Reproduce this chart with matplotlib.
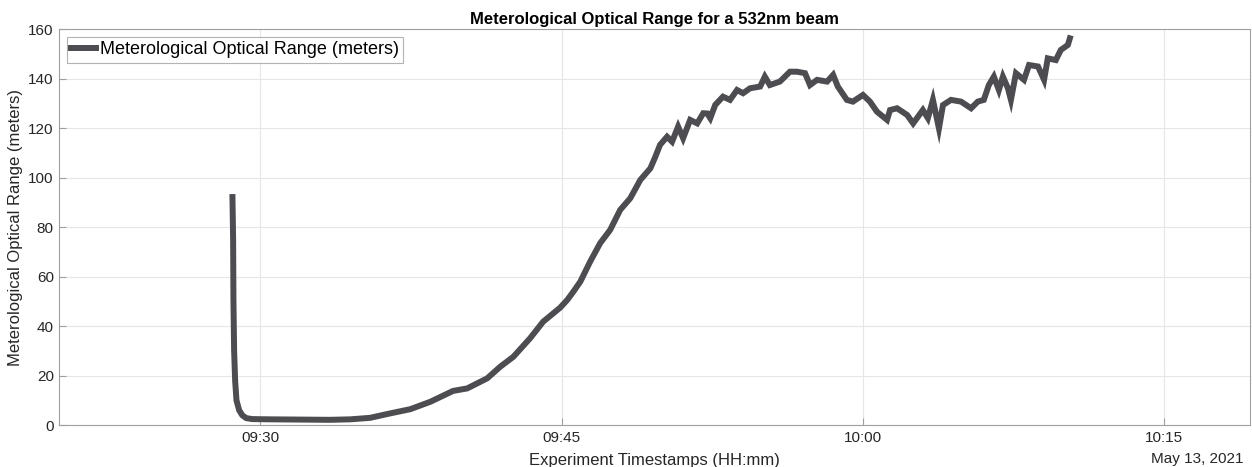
import numpy as np
import pandas as pd
import matplotlib
matplotlib.use("Agg")
import matplotlib.pyplot as plt
import matplotlib.dates as mdates

plt.rcParams['font.family'] = ['Liberation Sans', 'DejaVu Sans']

# Timestamps (HH:MM:SS on May 13, 2021) and MOR values
times = ["09:28:37", "09:28:39", "09:28:40", "09:28:42", "09:28:45", "09:28:49",
         "09:28:57", "09:29:06", "09:29:18", "09:29:36", "09:30:29", "09:31:59",
         "09:33:28", "09:34:29", "09:35:28", "09:36:28", "09:37:28", "09:38:28",
         "09:39:36", "09:40:18", "09:41:18", "09:41:57", "09:42:36", "09:43:26",
         "09:44:05", "09:44:56", "09:45:17", "09:45:35", "09:45:56", "09:46:25",
         "09:46:55", "09:47:25", "09:47:55", "09:48:25", "09:48:55", "09:49:25",
         "09:49:40", "09:49:54", "09:50:15", "09:50:30", "09:50:48", "09:51:03",
         "09:51:24", "09:51:45", "09:52:03", "09:52:15", "09:52:24", "09:52:39",
         "09:53:02", "09:53:23", "09:53:44", "09:54:02", "09:54:23", "09:54:53",
         "09:55:07", "09:55:22", "09:55:52", "09:56:22", "09:56:43", "09:57:07",
         "09:57:22", "09:57:43", "09:58:13", "09:58:31", "09:58:45", "09:59:12",
         "09:59:30", "10:00:00", "10:00:21", "10:00:42", "10:01:12", "10:01:21",
         "10:01:42", "10:02:12", "10:02:30", "10:02:59", "10:03:14", "10:03:29",
         "10:03:47", "10:03:59", "10:04:23", "10:04:53", "10:05:23", "10:05:43",
         "10:06:01", "10:06:16", "10:06:31", "10:06:46", "10:06:58", "10:07:13",
         "10:07:22", "10:07:37", "10:08:01", "10:08:16", "10:08:43", "10:09:01",
         "10:09:12", "10:09:36", "10:09:51", "10:10:12", "10:10:18"]
mor = [92.2, 75.0, 50.0, 30.0, 18.0, 10.0,
       6.0, 4.0, 2.8, 2.4, 2.3, 2.2,
       2.1, 2.3, 2.9, 4.7, 6.4, 9.4,
       13.8, 14.8, 18.9, 23.6, 27.6, 35.1,
       41.8, 47.5, 50.6, 53.9, 58.0, 66.0,
       73.5, 78.9, 87.0, 91.7, 99.1, 103.8,
       108.5, 113.3, 116.6, 114.6, 120.7, 116.0,
       123.4, 122.0, 126.1, 126.0, 124.1, 129.5,
       132.8, 131.5, 135.5, 134.2, 136.2, 136.9,
       140.9, 137.5, 138.9, 142.9, 142.9, 142.3,
       137.5, 139.6, 138.9, 141.6, 136.9, 131.5,
       130.8, 133.5, 130.8, 126.7, 123.4, 127.4,
       128.1, 125.4, 122.0, 127.4, 124.1, 131.5,
       120.0, 129.4, 131.5, 130.8, 128.1, 130.8,
       131.5, 137.5, 140.9, 135.5, 140.9, 136.2,
       131.5, 142.3, 139.6, 145.6, 145.0, 139.6,
       148.3, 147.6, 151.7, 153.7, 156.4]

day = "2021-05-13 "
t = pd.to_datetime([day + s for s in times])

fig = plt.figure(figsize=(12.52, 4.67), dpi=100)
ax = fig.add_axes([0.0474, 0.0899, 0.951, 0.8471])

ax.plot(t, mor, color='#4d4c50', linewidth=4.3, solid_joinstyle='miter',
        label='Meterological Optical Range (meters)')

ax.set_xlim(pd.Timestamp(day + "09:20:00"), pd.Timestamp(day + "10:19:16"))
ax.set_ylim(0, 160)
ax.set_yticks(np.arange(0, 161, 20))
ax.xaxis.set_major_locator(mdates.MinuteLocator(byminute=[0, 15, 30, 45]))
ax.xaxis.set_major_formatter(mdates.DateFormatter('%H:%M'))

ax.grid(True, color='#e6e6e6', linewidth=0.8)
ax.set_axisbelow(True)
ax.tick_params(direction='in', length=5, width=0.8, colors='#a0a0a0',
               labelcolor='#262626', labelsize=11, pad=4)
for s in ax.spines.values():
    s.set_color('#a0a0a0')
    s.set_linewidth(0.8)

ax.set_title('Meterological Optical Range for a 532nm beam', fontsize=12,
             fontweight='bold', color='black', pad=4)
ax.set_ylabel('Meterological Optical Range (meters)', fontsize=12, color='#262626',
              labelpad=4)
ax.set_xlabel('Experiment Timestamps (HH:mm)', fontsize=12, color='#262626',
              labelpad=6)
fig.text(0.9936, 0.002, 'May 13, 2021', ha='right', va='bottom', fontsize=11,
         color='#262626')

leg = ax.legend(loc='upper left', fontsize=13, frameon=True, fancybox=False,
                handlelength=1.4, handletextpad=0.2, borderpad=0.25,
                borderaxespad=0.4)
leg.get_frame().set_edgecolor('#a0a0a0')
leg.get_frame().set_linewidth(0.8)

fig.savefig('out.png', dpi=100)
